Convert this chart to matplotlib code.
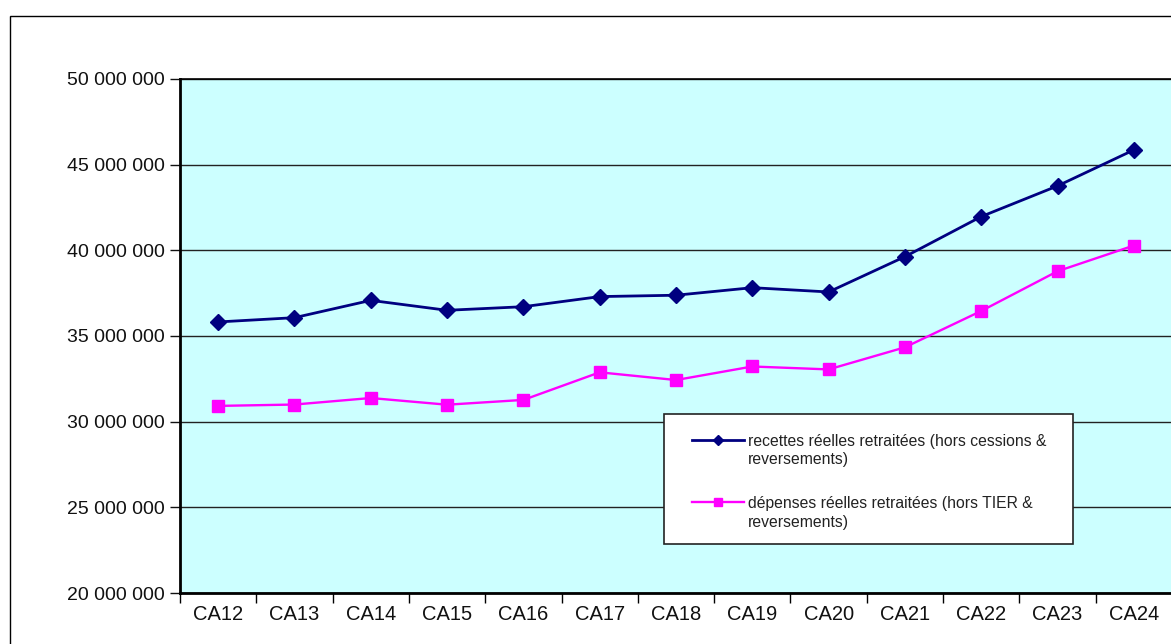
import matplotlib
matplotlib.use("Agg")
import matplotlib.pyplot as plt
from matplotlib.patches import Rectangle
from matplotlib.ticker import FuncFormatter, FixedLocator

# values
categories = ["CA12", "CA13", "CA14", "CA15", "CA16", "CA17", "CA18",
              "CA19", "CA20", "CA21", "CA22", "CA23", "CA24"]
recettes = [35.82e6, 36.07e6, 37.08e6, 36.50e6, 36.71e6, 37.30e6, 37.38e6,
            37.82e6, 37.57e6, 39.63e6, 41.97e6, 43.76e6, 45.86e6]
depenses = [30.92e6, 31.00e6, 31.38e6, 30.99e6, 31.27e6, 32.88e6, 32.43e6,
            33.22e6, 33.05e6, 34.34e6, 36.46e6, 38.78e6, 40.28e6]
label_rec = "recettes réelles retraitées (hors cessions &\nreversements)"
label_dep = "dépenses réelles retraitées (hors TIER &\nreversements)"
y_ticks = [20e6, 25e6, 30e6, 35e6, 40e6, 45e6, 50e6]

W, H = 1171, 644
plt.rcParams["font.family"] = ["Liberation Sans", "DejaVu Sans"]

fig = plt.figure(figsize=(W / 100, H / 100), dpi=100)
# outer chart frame (runs off the right/bottom edge)
fig.patches.append(Rectangle((9.5 / W, -0.1), 1.2, 1 - 15.5 / H + 0.1,
                             transform=fig.transFigure, fill=False,
                             edgecolor="black", linewidth=1.0))

ax = fig.add_axes([180 / W, 1 - 593 / H, 992 / W, (593 - 79) / H])
ax.set_facecolor("#CCFFFF")

x = list(range(len(categories)))
ax.plot(x, recettes, color="#000080", lw=2.0, marker="D", ms=8.5,
        label=label_rec, zorder=3)
ax.plot(x, depenses, color="#FF00FF", lw=1.7, marker="s", ms=8.5,
        label=label_dep, zorder=3)

ax.set_xlim(-0.5, len(categories) - 0.5)
ax.set_ylim(20e6, 50e6)
ax.set_yticks(y_ticks)
ax.yaxis.set_major_formatter(FuncFormatter(lambda v, _: f"{v:,.0f}".replace(",", " ")))
ax.grid(axis="y", color="#222222", lw=1.0)
ax.set_axisbelow(True)

ax.set_xticks(x)
ax.set_xticklabels(categories)
ax.xaxis.set_minor_locator(FixedLocator([i - 0.5 for i in range(len(categories) + 1)]))
ax.tick_params(axis="x", which="major", length=0, pad=9, labelsize=14.5, colors="#111111")
ax.tick_params(axis="x", which="minor", length=7, width=1.0, color="black")
ax.tick_params(axis="y", length=7, width=1.0, pad=4, labelsize=14, colors="#111111")

for side in ["left", "bottom"]:
    ax.spines[side].set_linewidth(2.0)
ax.spines["top"].set_linewidth(1.2)
ax.spines["right"].set_visible(False)

# legend box
ax.add_patch(Rectangle((664 / W, 1 - 544 / H), 409 / W, 130 / H,
                       transform=fig.transFigure, facecolor="white",
                       edgecolor="#222222", linewidth=1.2, zorder=4,
                       clip_on=False))
leg = ax.legend(loc="upper left", bbox_to_anchor=(684 / W, 1 - 426 / H),
                bbox_transform=fig.transFigure, frameon=False, fontsize=11.3,
                borderpad=0, handlelength=3.3, handletextpad=0.3,
                handleheight=1.0, labelspacing=1.85, markerscale=0.6)
leg.set_zorder(5)
for t in leg.get_texts():
    t.set_linespacing(1.28)
    t.set_color("#222222")
# put the handle next to the first line of each label, as in the original
for col in leg._legend_handle_box.get_children():
    for item in col.get_children():
        item.align = "top"

fig.savefig("out.png", dpi=100)
